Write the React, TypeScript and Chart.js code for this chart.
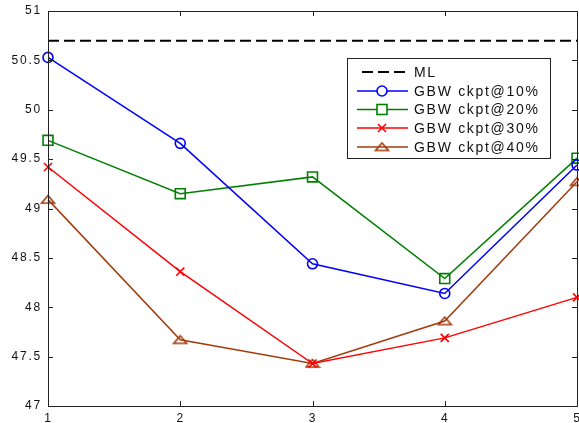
import React, { useEffect, useRef } from "react";
import { Chart, registerables } from "chart.js";

Chart.register(...registerables);

const xValues = [1, 2, 3, 4, 5];
const xTickLabels = ["1", "2", "3", "4", "5"];
const mlValue = 50.7;
const ckpt10 = [50.53, 49.66, 48.44, 48.14, 49.44];
const ckpt20 = [49.69, 49.15, 49.32, 48.29, 49.51];
const ckpt30 = [49.42, 48.36, 47.43, 47.69, 48.1];
const ckpt40 = [49.09, 47.67, 47.43, 47.86, 49.27];
const seriesLabels = ["ML", "GBW ckpt@10%", "GBW ckpt@20%", "GBW ckpt@30%", "GBW ckpt@40%"];

const BLUE = "#0000ff";
const GREEN = "#008000";
const RED = "#ff0000";
const BROWN = "#a33c0c";
const FONT = "'Liberation Sans', Arial, Helvetica, sans-serif";

function makeTriangle(color: string) {
  const c = document.createElement("canvas");
  c.width = 16;
  c.height = 11;
  const g = c.getContext("2d")!;
  g.strokeStyle = color;
  g.lineWidth = 1.6;
  g.beginPath();
  g.moveTo(1.5, 9);
  g.lineTo(14.5, 9);
  g.lineTo(8, 1.5);
  g.closePath();
  g.stroke();
  return c;
}

function drawMarker(ctx: CanvasRenderingContext2D, kind: string, x: number, y: number, color: string, tri?: HTMLCanvasElement) {
  ctx.save();
  ctx.strokeStyle = color;
  ctx.lineWidth = 1.6;
  ctx.setLineDash([]);
  if (kind === "circle") {
    ctx.fillStyle = "#fff";
    ctx.beginPath();
    ctx.arc(x, y, 5, 0, Math.PI * 2);
    ctx.fill();
    ctx.stroke();
  } else if (kind === "rect") {
    ctx.fillStyle = "#fff";
    ctx.fillRect(x - 5, y - 5, 10, 10);
    ctx.strokeRect(x - 5, y - 5, 10, 10);
  } else if (kind === "cross") {
    ctx.beginPath();
    ctx.moveTo(x - 4, y - 4);
    ctx.lineTo(x + 4, y + 4);
    ctx.moveTo(x - 4, y + 4);
    ctx.lineTo(x + 4, y - 4);
    ctx.stroke();
  } else if (kind === "tri" && tri) {
    ctx.drawImage(tri, x - tri.width / 2, y - tri.height / 2);
  }
  ctx.restore();
}

const PLOT_RIGHT = 577;

export default function App() {
  const ref = useRef<HTMLCanvasElement>(null);

  useEffect(() => {
    const canvas = ref.current!;
    const tri = makeTriangle(BROWN);

    const framePlugin = {
      id: "frameAndLegend",
      afterLayout(chart: any) {
        const xs = chart.scales.x;
        const a = chart.chartArea;
        xs.right = PLOT_RIGHT;
        xs.width = xs.right - xs.left;
        xs.configure();
        a.right = PLOT_RIGHT;
        a.width = a.right - a.left;
        const ys = chart.scales.y;
        ys.right = ys.left + 48;
      },
      beforeDraw(chart: any) {
        const ctx = chart.ctx;
        ctx.save();
        ctx.fillStyle = "#fff";
        ctx.fillRect(0, 0, chart.width, chart.height);
        ctx.restore();
        (ctx as any).letterSpacing = "1.8px";
      },
      afterDraw(chart: any) {
        const ctx: CanvasRenderingContext2D = chart.ctx;
        const a = chart.chartArea;
        const xs = chart.scales.x;
        const ys = chart.scales.y;
        ctx.save();
        ctx.strokeStyle = "#222";
        ctx.lineWidth = 1;
        ctx.setLineDash([]);
        ctx.strokeRect(Math.round(a.left) + 0.5, Math.round(a.top) + 0.5, Math.round(a.right - a.left), Math.round(a.bottom - a.top));
        ctx.beginPath();
        const tl = 5;
        xValues.forEach((v) => {
          const px = Math.round(xs.getPixelForValue(v)) + 0.5;
          ctx.moveTo(px, a.bottom);
          ctx.lineTo(px, a.bottom - tl);
          ctx.moveTo(px, a.top);
          ctx.lineTo(px, a.top + tl);
        });
        for (let v = 47; v <= 51.001; v += 0.5) {
          const py = Math.round(ys.getPixelForValue(v)) + 0.5;
          ctx.moveTo(a.left, py);
          ctx.lineTo(a.left + tl, py);
          ctx.moveTo(a.right, py);
          ctx.lineTo(a.right - tl, py);
        }
        ctx.stroke();

        // x tick labels
        ctx.fillStyle = "#111";
        ctx.font = `12px ${FONT}`;
        (ctx as any).letterSpacing = "1.8px";
        ctx.textAlign = "center";
        ctx.textBaseline = "top";
        xValues.forEach((v, i) => {
          const px = xs.getPixelForValue(v);
          ctx.fillText(xTickLabels[i], px + 0.5, a.bottom + 7);
        });

        // legend
        const bx = 347, by = 58, bw = 203, bh = 100;
        ctx.fillStyle = "#fff";
        ctx.fillRect(bx, by, bw, bh);
        ctx.strokeStyle = "#222";
        ctx.strokeRect(bx + 0.5, by + 0.5, bw, bh);
        const rowY = [72, 91, 109.5, 128, 147];
        const colors = ["#000", BLUE, GREEN, RED, BROWN];
        const kinds = ["none", "circle", "rect", "cross", "tri"];
        const lx0 = 357, lx1 = 408, mx = 382;
        for (let i = 0; i < seriesLabels.length; i++) {
          const y = rowY[i];
          ctx.strokeStyle = colors[i];
          if (i === 0) {
            ctx.lineWidth = 2;
            ctx.setLineDash([11, 5]);
            ctx.beginPath();
            ctx.moveTo(362, y);
            ctx.lineTo(lx1, y);
            ctx.stroke();
            ctx.setLineDash([]);
          } else {
            ctx.lineWidth = 1.5;
            ctx.beginPath();
            ctx.moveTo(lx0, y);
            ctx.lineTo(lx1, y);
            ctx.stroke();
            drawMarker(ctx, kinds[i], mx, y, colors[i], tri);
          }
          ctx.fillStyle = "#111";
          ctx.font = `14px ${FONT}`;
          (ctx as any).letterSpacing = "1.7px";
          ctx.textAlign = "left";
          ctx.textBaseline = "middle";
          ctx.fillText(seriesLabels[i], 414, y + 1);
        }
        ctx.restore();
      },
    };

    const mk = (data: number[]) => data.map((y, i) => ({ x: xValues[i], y }));

    const chart = new Chart(canvas, {
      type: "line",
      data: {
        datasets: [
          {
            label: seriesLabels[0],
            data: [{ x: 1, y: mlValue }, { x: 5, y: mlValue }],
            borderColor: "#000",
            borderWidth: 2,
            borderDash: [11, 5],
            pointRadius: 0,
            clip: false as any,
          },
          {
            label: seriesLabels[1],
            data: mk(ckpt10),
            borderColor: BLUE,
            borderWidth: 1.5,
            pointStyle: "circle",
            pointRadius: 5,
            pointBorderWidth: 1.6,
            pointBackgroundColor: "rgba(255,255,255,0)",
            pointBorderColor: BLUE,
            clip: false as any,
          },
          {
            label: seriesLabels[2],
            data: mk(ckpt20),
            borderColor: GREEN,
            borderWidth: 1.5,
            pointStyle: "rect",
            pointRadius: 7,
            pointBorderWidth: 1.6,
            pointBackgroundColor: "rgba(255,255,255,0)",
            pointBorderColor: GREEN,
            clip: false as any,
          },
          {
            label: seriesLabels[3],
            data: mk(ckpt30),
            borderColor: RED,
            borderWidth: 1.5,
            pointStyle: "crossRot",
            pointRadius: 5.7,
            pointBorderWidth: 1.6,
            pointBorderColor: RED,
            clip: false as any,
          },
          {
            label: seriesLabels[4],
            data: mk(ckpt40),
            borderColor: BROWN,
            borderWidth: 1.5,
            pointStyle: tri as any,
            pointRadius: 7,
            clip: false as any,
          },
        ],
      },
      options: {
        responsive: false,
        animation: false,
        events: [],
        layout: { padding: { top: 11, right: 2, left: 0, bottom: 0 } },
        plugins: { legend: { display: false }, tooltip: { enabled: false } },
        elements: { line: { tension: 0 } },
        scales: {
          x: {
            type: "linear",
            min: 1,
            max: 5,
            afterFit: (s: any) => {
              s.height = 17;
              s.paddingLeft = 0;
              s.paddingRight = 0;
            },
            grid: { display: false, drawTicks: false },
            border: { display: false },
            ticks: { display: false, stepSize: 1 },
          },
          y: {
            type: "linear",
            min: 47,
            max: 51,
            afterFit: (s: any) => {
              s.width = 48;
              s.paddingTop = 0;
              s.paddingBottom = 0;
            },
            grid: { display: false, drawTicks: false },
            border: { display: false },
            ticks: {
              stepSize: 0.5,
              padding: 6,
              color: "#111",
              font: { family: FONT, size: 12 },
              callback: (v: any) => String(v),
            },
          },
        },
      },
      plugins: [framePlugin],
    });
    return () => chart.destroy();
  }, []);

  return (
    <div style={{ position: "fixed", left: 0, top: 0, width: 579, height: 423, background: "#fff" }}>
      <canvas ref={ref} width={579} height={423} style={{ display: "block" }} />
    </div>
  );
}
